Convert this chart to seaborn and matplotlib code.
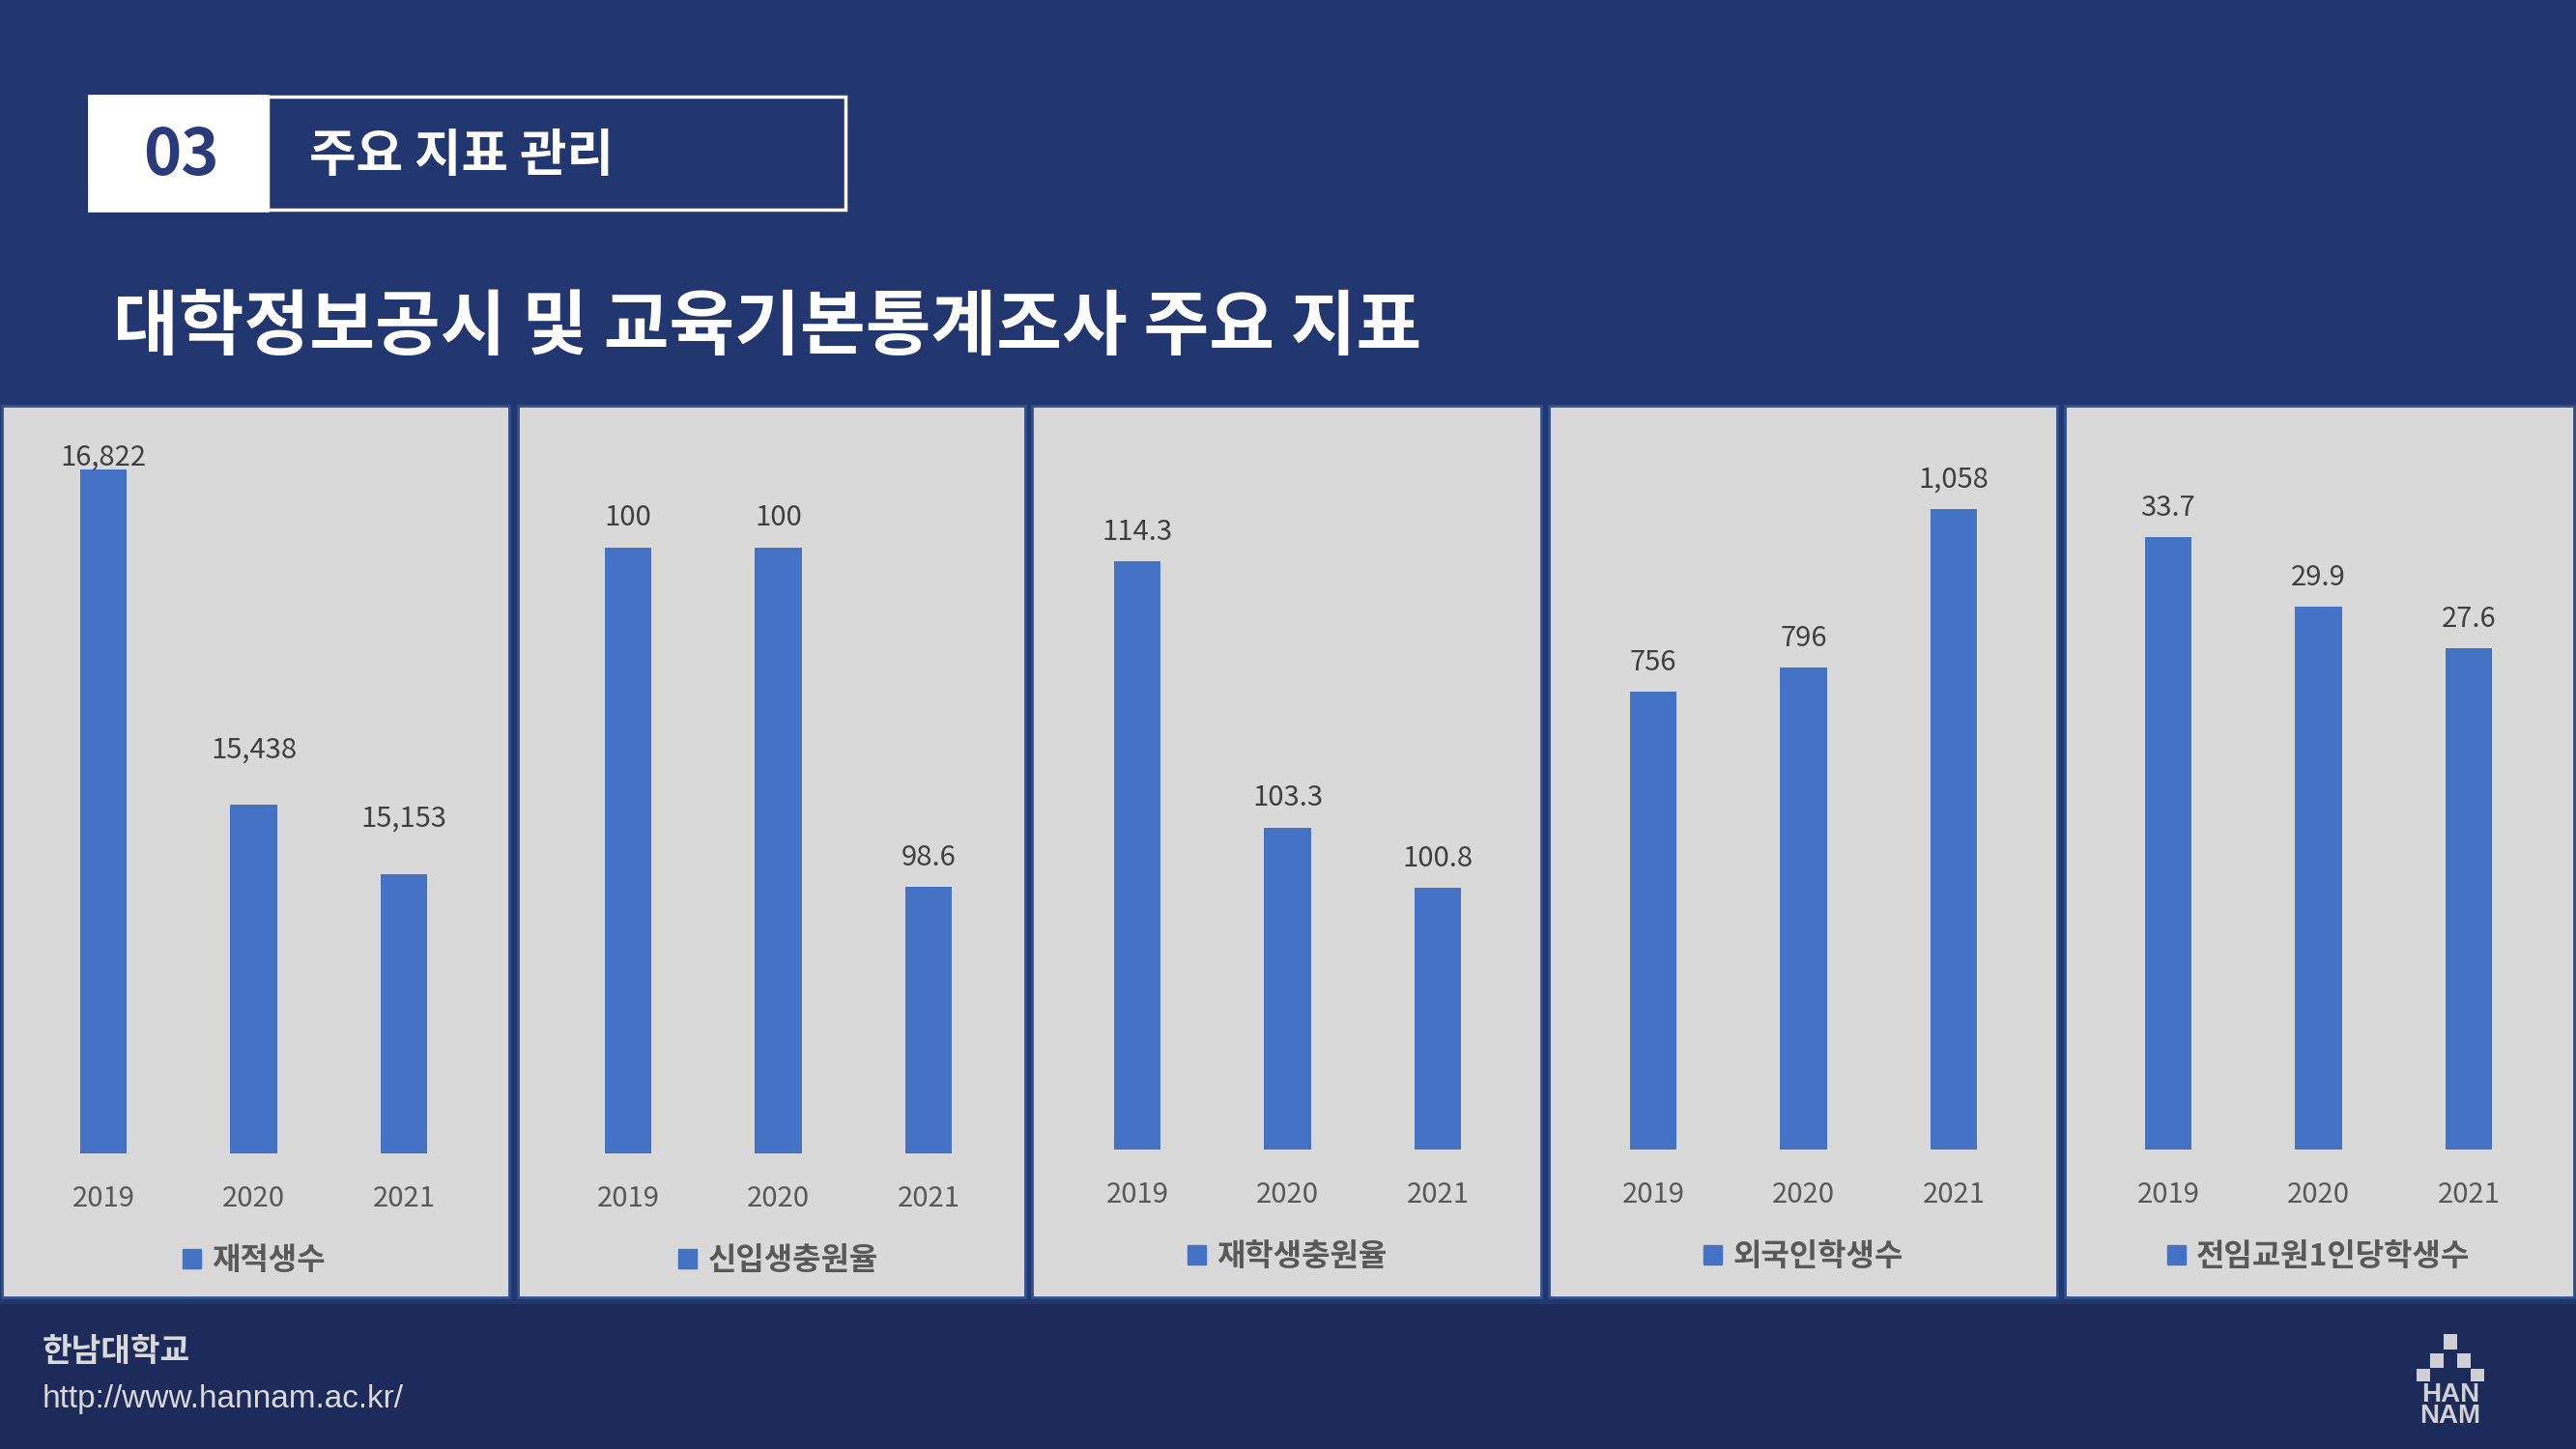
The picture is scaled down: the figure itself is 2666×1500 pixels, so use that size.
import matplotlib
matplotlib.use('Agg')
import matplotlib.pyplot as plt
from matplotlib.patches import Rectangle, Patch
import seaborn as sns

# 지표 데이터
years = ['2019', '2020', '2021']
enrolled = [16822, 15438, 15153]
freshman_rate = [100, 100, 98.6]
student_rate = [114.3, 103.3, 100.8]
foreign_students = [756, 796, 1058]
per_faculty = [33.7, 29.9, 27.6]
series_names = ['재적생수', '신입생충원율', '재학생충원율', '외국인학생수', '전임교원1인당학생수']
series_values = [enrolled, freshman_rate, student_rate, foreign_students, per_faculty]
label_fmts = ['{:,.0f}', '{:g}', '{:g}', '{:,.0f}', '{:g}']
y_ranges = [(14000, 17000), (97.5, 100.5), (90, 120), (0, 1200), (0, 40)]

section_no = '03'
section_title = '주요 지표 관리'
page_title = '대학정보공시 및 교육기본통계조사 주요 지표'
footer_name = '한남대학교'
footer_url = 'http://www.hannam.ac.kr/'

BAR = '#4472C4'
BG = '#22366F'
FOOT = '#1C2B59'
PANEL = '#D9D9D9'
GRAY = '#595959'

sns.set_style('white')
plt.rcParams['font.family'] = ['Noto Sans CJK KR', 'DejaVu Sans']

W, H = 2666, 1500
fig = plt.figure(figsize=(W / 100, H / 100), dpi=100)
fig.patch.set_facecolor(BG)


def fig_rect(x0, y0, x1, y1, **kw):
    r = Rectangle((x0 / W, 1 - y1 / H), (x1 - x0) / W, (y1 - y0) / H,
                  transform=fig.transFigure, **kw)
    fig.add_artist(r)
    return r


def fig_text(x, y, s, **kw):
    return fig.text(x / W, 1 - y / H, s, **kw)


# footer band
fig_rect(0, 1350, W, H, facecolor=FOOT, edgecolor='none', zorder=-10)

# header
fig_rect(92, 99, 277, 218, facecolor='white', edgecolor='white', lw=2)
fig_rect(277, 100, 875, 217, facecolor='none', edgecolor='white', lw=2.5)
fig_text(187, 161, section_no, ha='center', va='center', fontsize=48,
         fontweight='bold', color='#2B3A7A')
fig_text(320, 161, section_title, ha='left', va='center', fontsize=38,
         fontweight='bold', color='white')
fig_text(117, 340, page_title, ha='left', va='center', fontsize=53,
         fontweight='bold', color='white')

# panels
panel_x = [(2, 527), (536, 1061), (1068, 1595), (1603, 2129), (2137, 2664)]
first_bar = [107, 650, 1177, 1711, 2244]
axis_bottom = [1194, 1194, 1190, 1190, 1190]
axis_top = [441, 441, 438, 438, 438]
label_pads = [[3, 35, 35], [16, 16, 16], [16, 16, 16], [16, 16, 16], [16, 16, 16]]
step = 155.6

for i, (name, vals) in enumerate(zip(series_names, series_values)):
    x0, x1 = panel_x[i]
    fig_rect(x0, 420, x1, 1343, facecolor=PANEL, edgecolor='#2F4F8F', lw=2, zorder=-5)

    left = first_bar[i] - step / 2
    ax = fig.add_axes([left / W, 1 - axis_bottom[i] / H, 3 * step / W,
                       (axis_bottom[i] - axis_top[i]) / H])
    ax.set_facecolor('none')
    sns.barplot(x=years, y=vals, color=BAR, saturation=1, width=0.31,
                linewidth=0, ax=ax)
    ax.set_ylim(*y_ranges[i])
    ax.set_xlim(-0.5, 2.5)
    for bar, v, pad in zip(ax.patches, vals, label_pads[i]):
        ax.annotate(label_fmts[i].format(v), (bar.get_x() + bar.get_width() / 2, v),
                    xytext=(0, pad), textcoords='offset points', ha='center',
                    va='baseline', fontsize=21, color='#404040', annotation_clip=False)
    sns.despine(ax=ax, left=True, bottom=True)
    ax.set_yticks([])
    ax.tick_params(axis='x', length=0, pad=23, labelsize=21, labelcolor=GRAY)
    ax.set_xlabel('')
    ax.set_ylabel('')
    leg = ax.legend(handles=[Patch(color=BAR, label=name)], loc='center',
                    bbox_to_anchor=(0.5, -0.148), frameon=False, handlelength=0.6,
                    handleheight=0.6, handletextpad=0.35,
                    prop={'size': 23, 'weight': 'bold'})
    for t in leg.get_texts():
        t.set_color(GRAY)

# footer texts
fig_text(44, 1400, footer_name, ha='left', va='center', fontsize=24,
         fontweight='bold', color='#D9D9D9')
fig_text(44, 1448, footer_url, ha='left', va='center', fontsize=24,
         color='#D9D9D9', family=['Liberation Sans', 'DejaVu Sans'])

# logo
LOGO = '#CFCFD6'
for cx, cy, cw, ch in [(2529, 1381, 14, 16), (2515, 1401, 14, 15), (2543, 1401, 14, 15),
                       (2501, 1417, 14, 13), (2557, 1417, 14, 13)]:
    fig_rect(cx, cy, cx + cw, cy + ch, facecolor=LOGO, edgecolor='none')
fig_text(2536, 1451, 'HAN', ha='center', va='baseline', fontsize=20,
         fontweight='bold', color=LOGO, family=['Liberation Sans', 'DejaVu Sans'])
fig_text(2536, 1473, 'NAM', ha='center', va='baseline', fontsize=20,
         fontweight='bold', color=LOGO, family=['Liberation Sans', 'DejaVu Sans'])

fig.savefig('out.png', dpi=100, facecolor=fig.get_facecolor())
